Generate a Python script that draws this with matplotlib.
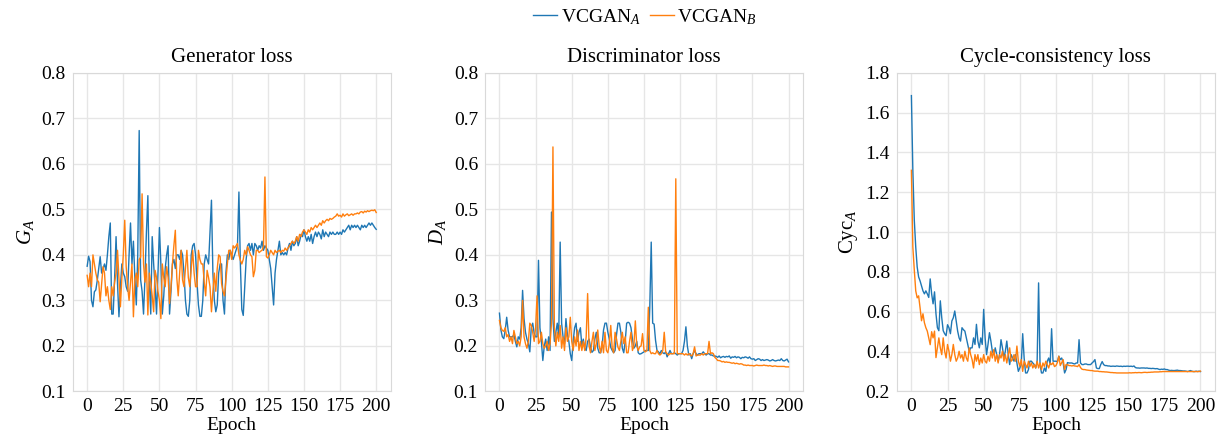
import matplotlib.pyplot as plt
import numpy as np

plt.rcParams['font.family'] = ['Liberation Serif', 'DejaVu Serif']
plt.rcParams['mathtext.fontset'] = 'custom'
plt.rcParams['mathtext.rm'] = 'Liberation Serif'
plt.rcParams['mathtext.it'] = 'Liberation Serif:italic'

epochs = list(range(0, 201))
xticks = [0, 25, 50, 75, 100, 125, 150, 175, 200]

# generator loss
gen_a = [
    .375, .397, .385, .30, .286, .319, .323, .344, .37, .396,
    .36, .37, .38, .366, .40, .44, .47, .27, .27, .35,
    .44, .337, .264, .33, .38, .36, .352, .33, .32, .40,
    .47, .38, .43, .35, .29, .40, .673, .345, .32, .27,
    .35, .45, .53, .34, .27, .44, .38, .33, .27, .36,
    .46, .38, .27, .31, .37, .40, .42, .27, .32, .38,
    .39, .37, .40, .40, .39, .41, .40, .36, .30, .27,
    .265, .30, .40, .42, .425, .40, .34, .29, .265, .265,
    .30, .38, .40, .39, .38, .45, .52, .36, .30, .275,
    .29, .36, .38, .38, .30, .27, .36, .40, .39, .41,
    .40, .39, .40, .41, .42, .538, .38, .28, .267, .33,
    .39, .42, .425, .41, .425, .40, .425, .42, .41, .42,
    .415, .43, .41, .42, .415, .41, .39, .37, .33, .29,
    .36, .39, .41, .43, .40, .405, .40, .405, .40, .415,
    .425, .41, .43, .42, .425, .44, .42, .43, .445, .44,
    .455, .44, .43, .44, .43, .445, .425, .44, .45, .44,
    .45, .445, .435, .455, .44, .45, .445, .44, .45, .445,
    .45, .445, .445, .45, .445, .45, .445, .455, .45, .455,
    .46, .465, .455, .465, .46, .465, .46, .465, .46, .455,
    .465, .46, .465, .46, .465, .47, .465, .47, .465, .46,
    .456]
gen_b = [
    .355, .33, .36, .33, .40, .38, .36, .345, .34, .297,
    .337, .374, .36, .31, .33, .30, .28, .33, .31, .34,
    .36, .41, .35, .286, .35, .40, .476, .374, .33, .30,
    .34, .38, .264, .345, .36, .33, .39, .395, .534, .38,
    .34, .38, .268, .36, .34, .31, .275, .366, .35, .32,
    .30, .26, .38, .35, .33, .374, .35, .293, .33, .38,
    .42, .454, .35, .31, .36, .41, .345, .33, .37, .41,
    .35, .33, .37, .41, .36, .33, .33, .41, .39, .38,
    .38, .34, .31, .366, .35, .33, .275, .32, .36, .32,
    .37, .40, .396, .337, .32, .31, .345, .38, .41, .41,
    .39, .42, .415, .42, .425, .40, .388, .38, .39, .41,
    .40, .418, .41, .40, .396, .352, .366, .41, .41, .405,
    .408, .41, .418, .571, .396, .393, .40, .41, .405, .40,
    .41, .405, .408, .41, .405, .41, .408, .415, .41, .415,
    .42, .425, .43, .425, .43, .44, .43, .445, .44, .45,
    .455, .45, .445, .455, .45, .46, .455, .46, .465, .46,
    .465, .47, .465, .475, .47, .475, .478, .475, .48, .478,
    .48, .483, .485, .49, .485, .487, .483, .49, .485, .488,
    .49, .486, .488, .49, .487, .49, .49, .492, .49, .494,
    .495, .492, .496, .494, .497, .495, .497, .498, .497, .499,
    .493]

# discriminator loss
dis_a = [
    .272, .235, .22, .216, .235, .263, .234, .22, .22, .22,
    .225, .21, .198, .22, .215, .24, .322, .26, .23, .215,
    .205, .187, .24, .25, .228, .22, .22, .388, .24, .21,
    .168, .20, .215, .19, .22, .19, .494, .26, .21, .23,
    .25, .22, .428, .25, .22, .205, .26, .225, .21, .183,
    .168, .21, .24, .25, .21, .23, .24, .20, .215, .195,
    .19, .21, .215, .197, .186, .19, .215, .23, .195, .185,
    .185, .20, .235, .25, .25, .23, .215, .197, .19, .185,
    .19, .225, .25, .25, .23, .195, .185, .21, .25, .252,
    .25, .24, .215, .195, .20, .21, .185, .182, .183, .185,
    .187, .19, .19, .19, .285, .428, .25, .248, .212, .19,
    .187, .183, .19, .185, .183, .187, .176, .183, .19, .183,
    .183, .185, .183, .18, .183, .183, .183, .19, .21, .242,
    .20, .18, .183, .172, .183, .19, .183, .18, .183, .183,
    .183, .187, .183, .18, .183, .183, .18, .18, .178, .178,
    .177, .175, .178, .174, .176, .177, .175, .177, .176, .178,
    .173, .176, .175, .177, .174, .176, .175, .172, .175, .174,
    .176, .175, .173, .176, .172, .171, .172, .168, .17, .172,
    .171, .168, .17, .168, .169, .17, .169, .167, .168, .17,
    .168, .167, .168, .169, .168, .172, .168, .167, .169, .171,
    .165]
dis_b = [
    .256, .24, .234, .232, .24, .22, .225, .21, .22, .205,
    .234, .22, .205, .21, .20, .22, .30, .22, .205, .195,
    .21, .25, .245, .23, .21, .24, .31, .205, .21, .23,
    .205, .195, .20, .21, .19, .205, .25, .637, .24, .20,
    .23, .21, .245, .195, .22, .19, .24, .21, .22, .263,
    .21, .19, .22, .20, .235, .19, .21, .19, .21, .19,
    .22, .315, .20, .185, .21, .23, .19, .205, .235, .20,
    .185, .21, .185, .23, .19, .185, .205, .245, .195, .185,
    .23, .215, .197, .19, .21, .23, .205, .22, .185, .185,
    .21, .23, .19, .20, .255, .20, .19, .198, .20, .227,
    .19, .187, .19, .285, .19, .183, .185, .183, .183, .19,
    .183, .18, .183, .19, .23, .187, .183, .18, .183, .183,
    .183, .183, .567, .183, .183, .183, .183, .183, .18, .183,
    .18, .183, .18, .178, .183, .198, .178, .18, .18, .18,
    .183, .18, .183, .183, .183, .21, .183, .185, .183, .175,
    .172, .168, .168, .167, .165, .166, .164, .165, .164, .164,
    .163, .162, .163, .161, .162, .161, .16, .161, .16, .158,
    .158, .157, .158, .157, .157, .157, .156, .157, .158, .157,
    .157, .157, .157, .158, .157, .157, .156, .157, .156, .155,
    .156, .156, .155, .155, .155, .155, .155, .155, .154, .154,
    .154]

# cycle-consistency loss
cyc_a = [
    1.685, 1.31, 1.06, .925, .825, .775, .755, .73, .705, .69,
    .705, .69, .672, .765, .69, .64, .70, .59, .52, .505,
    .655, .57, .505, .49, .48, .535, .52, .49, .554, .57,
    .604, .554, .503, .469, .453, .52, .51, .503, .469, .436,
    .402, .419, .419, .469, .436, .537, .453, .419, .469, .436,
    .612, .469, .385, .436, .495, .453, .402, .385, .419, .385,
    .352, .385, .46, .419, .368, .402, .453, .385, .335, .385,
    .368, .352, .385, .343, .301, .318, .335, .49, .368, .293,
    .293, .31, .352, .352, .343, .335, .318, .352, .745, .335,
    .293, .293, .318, .301, .352, .368, .335, .515, .352, .352,
    .352, .35, .377, .36, .368, .343, .293, .31, .345, .343,
    .343, .343, .34, .338, .343, .343, .46, .343, .335, .335,
    .338, .338, .335, .335, .335, .343, .35, .36, .318, .315,
    .315, .335, .35, .335, .33, .33, .328, .328, .326, .327,
    .327, .326, .328, .327, .326, .327, .325, .327, .326, .327,
    .327, .326, .327, .325, .328, .32, .318, .318, .317, .318,
    .318, .318, .317, .318, .316, .316, .315, .316, .315, .314,
    .315, .312, .31, .312, .311, .313, .31, .31, .307, .305,
    .306, .305, .305, .306, .307, .305, .305, .304, .303, .303,
    .302, .30, .302, .305, .302, .30, .30, .302, .30, .302,
    .30]
cyc_b = [
    1.31, .925, .81, .705, .67, .68, .62, .555, .59, .545,
    .52, .503, .47, .435, .50, .469, .503, .37, .419, .469,
    .419, .385, .469, .402, .368, .436, .402, .352, .385, .436,
    .385, .352, .368, .402, .368, .385, .352, .402, .368, .352,
    .419, .385, .36, .318, .385, .352, .385, .335, .368, .343,
    .385, .352, .343, .377, .352, .402, .368, .41, .352, .385,
    .343, .385, .368, .402, .352, .385, .343, .385, .419, .352,
    .36, .385, .352, .428, .352, .326, .36, .301, .352, .335,
    .318, .352, .326, .343, .318, .335, .318, .352, .318, .343,
    .31, .343, .326, .352, .335, .318, .343, .335, .345, .325,
    .33, .345, .377, .33, .345, .36, .31, .335, .335, .33,
    .33, .328, .33, .328, .327, .325, .335, .32, .312, .31,
    .31, .308, .307, .306, .305, .305, .303, .302, .302, .302,
    .30, .30, .299, .299, .298, .298, .297, .296, .295, .295,
    .294, .294, .293, .293, .293, .293, .293, .293, .293, .293,
    .293, .294, .293, .294, .294, .295, .294, .295, .295, .294,
    .295, .296, .296, .295, .296, .296, .297, .297, .298, .298,
    .298, .298, .299, .299, .30, .30, .30, .30, .30, .30,
    .30, .30, .30, .30, .30, .30, .30, .30, .30, .30,
    .30, .30, .30, .30, .30, .30, .30, .30, .30, .30,
    .302]

panels = [
    ("Generator loss", "$G_A$", gen_a, gen_b, (0.1, 0.8), np.arange(0.1, 0.81, 0.1)),
    ("Discriminator loss", "$D_A$", dis_a, dis_b, (0.1, 0.8), np.arange(0.1, 0.81, 0.1)),
    ("Cycle-consistency loss", "Cyc$_A$", cyc_a, cyc_b, (0.2, 1.8), np.arange(0.2, 1.81, 0.2)),
]
lefts = [0.0595, 0.3969, 0.734]

fig = plt.figure(figsize=(12.22, 4.43), dpi=100)
for left, (title, ylab, ya, yb, ylim, yt) in zip(lefts, panels):
    ax = fig.add_axes([left, 0.1163, 0.2602, 0.7196])
    la, = ax.plot(epochs, ya, color='#1f77b4', lw=1.0)
    lb, = ax.plot(epochs, yb, color='#ff7f0e', lw=1.0)
    ax.set_ylim(*ylim)
    ax.set_yticks(yt)
    ax.set_yticklabels([f"{v:.1f}" for v in yt])
    ax.set_xticks(xticks)
    ax.set_title(title, fontsize=15, pad=8)
    ax.set_xlabel("Epoch", fontsize=14, labelpad=1)
    ax.set_ylabel(ylab, fontsize=15, labelpad=4)
    ax.tick_params(labelsize=14, length=0, pad=5)
    ax.grid(color='#e6e6e6', lw=1)
    ax.set_axisbelow(True)
    for s in ax.spines.values():
        s.set_color('#d9d9d9')

fig.legend([la, lb], ["VCGAN$_A$", "VCGAN$_B$"], loc='center', bbox_to_anchor=(0.528, 0.962),
           ncol=2, frameon=False, fontsize=14, handlelength=1.2, handletextpad=0.2, columnspacing=0.5)
fig.savefig("out.png", dpi=100)
